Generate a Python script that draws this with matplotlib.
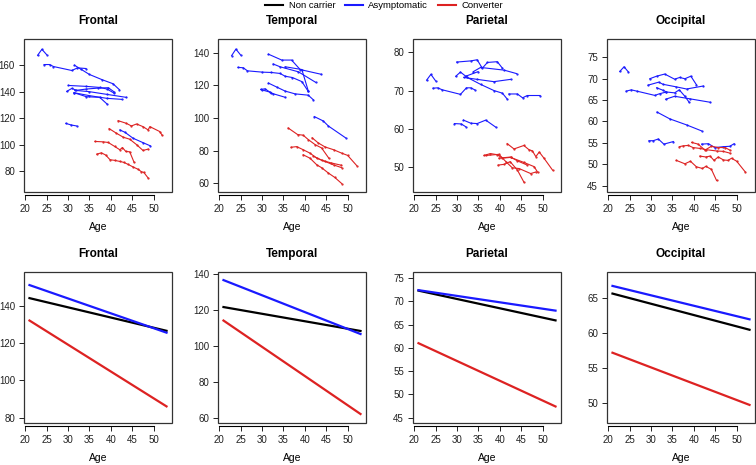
import matplotlib.pyplot as plt
from matplotlib.patches import Rectangle

plt.rcParams['font.family'] = ['Liberation Sans', 'DejaVu Sans']

groups = ['Non carrier', 'Asymptomatic', 'Converter']
colors = {'Non carrier': 'black', 'Asymptomatic': '#1a1aff', 'Converter': '#dd2222'}
regions = ['Frontal', 'Temporal', 'Parietal', 'Occipital']

# individual trajectories: (group, ages, values)
frontal_traj = [
    ('Asymptomatic', [22.9, 23.9, 25.0], [167.5, 172, 168]),
    ('Asymptomatic', [24.4, 25.7, 26.6, 30.9, 32.2, 34.2], [160.5, 160.5, 159, 156, 158, 157.5]),
    ('Asymptomatic', [31.5, 33, 35, 38, 40.5, 42], [160, 157, 153, 149, 146, 141.5]),
    ('Asymptomatic', [30.1, 34.3, 37.4, 39.1, 40.7], [144.7, 144, 143.2, 142, 139]),
    ('Asymptomatic', [29.7, 30.9, 31.9, 34.3, 37, 39.4, 40.7], [140.2, 142.5, 141, 142, 142.7, 143, 140]),
    ('Asymptomatic', [31.6, 35, 39, 43.6], [141, 140, 138, 135.7]),
    ('Asymptomatic', [31.4, 35, 39, 42.5], [139.2, 137, 135, 134.2]),
    ('Asymptomatic', [31.4, 34.3, 37.4, 39.1], [139.2, 136.2, 135.7, 130.7]),
    ('Asymptomatic', [29.5, 30.8, 32], [116, 114.8, 114.1]),
    ('Asymptomatic', [42.1, 43.3, 45.2, 47.5, 49.2], [111.1, 109.3, 104.8, 101.5, 99.1]),
    ('Converter', [41.7, 43.6, 44.8, 46, 47.5, 48.7, 49.1, 51.4, 52], [118.1, 116.1, 114.1, 115.6, 113.6, 111.1, 113.6, 109.9, 107]),
    ('Converter', [39.6, 41.3, 42.9, 44.4, 46, 47.5, 48.7], [112.1, 108.6, 105.6, 104.1, 100, 95.6, 96.6]),
    ('Converter', [36.3, 38.2, 39.4, 40.9, 42.1, 42.7, 43.5, 44.4, 45.4], [102.4, 102.1, 101.6, 98.6, 96.1, 97.8, 94.8, 94.6, 86.8]),
    ('Converter', [36.7, 37.8, 38.8, 39.8, 40.9, 42.1, 43, 44, 45.2, 46.4, 47.1, 47.7, 48.7],
     [92.8, 93.8, 92.1, 88.6, 88.1, 87.3, 86.6, 85.1, 83.1, 81.3, 79.6, 79, 74.8]),
]

temporal_traj = [
    ('Asymptomatic', [22.9, 23.9, 25.0], [138.1, 142.1, 138.5]),
    ('Asymptomatic', [24.4, 25.6, 26.6, 30.1, 32.2, 34.2, 35.4, 37.1, 39.3, 40.8],
     [130.9, 130.7, 128.8, 128, 127.8, 127.2, 125.5, 124.7, 122.2, 116.2]),
    ('Asymptomatic', [31.5, 34.6, 36.9, 38.9, 43.8], [139, 135.4, 135.4, 129.6, 126.7]),
    ('Asymptomatic', [32.6, 34.2, 38.5, 42.5], [133, 131.3, 128.2, 121.8]),
    ('Asymptomatic', [35.4, 39.3, 40.8], [131.3, 129.6, 116.5]),
    ('Asymptomatic', [31.5, 33.4, 35.4, 37.7, 40.8, 42], [121.3, 118.9, 116.4, 114.7, 113.9, 111]),
    ('Asymptomatic', [29.7, 30.7, 32.2, 35.4], [117.4, 117.8, 115.1, 112.6]),
    ('Asymptomatic', [29.9, 31.8, 32.5], [117.2, 115.8, 114.8]),
    ('Asymptomatic', [42.2, 44.3, 45.5, 49.5], [100.8, 98.1, 95, 87.8]),
    ('Converter', [36.1, 38.3, 39.6, 40.8, 42.4, 43.9, 45.6], [93.8, 89.8, 89.4, 86.7, 83.6, 81.6, 75.3]),
    ('Converter', [41.7, 43.1, 44.7, 46.7, 48.6, 50, 52.1], [87.8, 84.7, 82.2, 80.5, 78.4, 77, 70.8]),
    ('Converter', [36.8, 38.1, 39.6, 41.2, 42.8, 44.7, 46.7, 48.6], [82, 82.4, 80.5, 78.4, 75.3, 73.3, 71.2, 69.5]),
    ('Converter', [39.6, 41.2, 42.8, 43.9, 45.5, 47, 48.6], [77.4, 75.3, 71.2, 69.5, 66.2, 63.5, 59.8]),
    ('Converter', [42, 44, 46, 48.5], [76.5, 74, 72.5, 71]),
]

parietal_traj = [
    ('Asymptomatic', [22.9, 23.9, 25.0], [72.7, 74.2, 72.5]),
    ('Asymptomatic', [24.4, 25.5, 26.5, 30.8, 32.2, 33.2, 34.1], [70.6, 70.7, 70.2, 69, 70.7, 70.7, 70.2]),
    ('Asymptomatic', [29.9, 33.2, 34.7, 35.9, 37.1, 39.4, 40.6], [77.4, 77.7, 78, 75.8, 77.3, 77.5, 75.8]),
    ('Asymptomatic', [33.8, 35.5, 41, 43.9], [74.9, 76, 75.3, 74.4]),
    ('Asymptomatic', [29.7, 30.8, 32.4, 35.5, 38.6, 40.6, 41.7], [73.7, 74.8, 73.4, 71.6, 70, 69.3, 67.8]),
    ('Asymptomatic', [31.6, 34.7, 38.6, 42.5], [73.4, 72.9, 72.3, 72.9]),
    ('Asymptomatic', [32, 34.9], [73.7, 74.9]),
    ('Asymptomatic', [42.1, 44.1, 45.3, 46.4, 49.4], [69.1, 69.1, 68.1, 68.7, 68.7]),
    ('Asymptomatic', [29.4, 31, 32], [61.4, 61.3, 60.6]),
    ('Asymptomatic', [31.5, 33.2, 34.7, 36.7, 39], [62.3, 61.5, 61.4, 62.3, 60.5]),
    ('Converter', [41.7, 43.3, 45.6, 46.8, 47.6, 48.4, 49.2, 50.3, 52.3], [56.2, 54.8, 55.7, 54.6, 54.3, 52.8, 54, 52.4, 49.3]),
    ('Converter', [36.3, 37.8, 39.4, 40.6, 42.5, 45.6, 48, 48.8], [53.1, 53.6, 53.3, 52.4, 52.6, 51.3, 50.2, 48.8]),
    ('Converter', [36.7, 39.8, 41.4, 42.9, 44.5, 47.2, 48.4], [53.1, 53.4, 51.5, 49.9, 49.7, 48.4, 48.8]),
    ('Converter', [39.6, 41, 42.4, 44.1, 45.6], [50.6, 50.8, 51.5, 49.3, 46.2]),
    ('Converter', [39.8, 42.5, 44.1, 46.4], [52.4, 52.7, 51.7, 50.6]),
]

occipital_traj = [
    ('Asymptomatic', [22.7, 23.7, 24.7], [71.7, 72.8, 71.6]),
    ('Asymptomatic', [24.2, 25.4, 26.7, 30.9, 32, 33.6, 35.5, 36.6, 37.9, 38.9],
     [67.1, 67.4, 67.1, 66.1, 66.5, 66.9, 66.7, 67.4, 65.9, 64.5]),
    ('Asymptomatic', [29.7, 31.3, 33.2, 35.5, 36.7, 37.9, 39.3, 40.6], [70, 70.6, 71.1, 69.9, 70.3, 70, 70.6, 68.6]),
    ('Asymptomatic', [29.3, 31.8, 32.8, 35.9, 38.3, 42.2], [68.5, 69.2, 68.7, 68.1, 67.6, 68.3]),
    ('Asymptomatic', [31.3, 32.8, 33.6], [67.9, 67.3, 66.9]),
    ('Asymptomatic', [33.4, 35.5, 39.1, 43.8], [65.2, 65.9, 65.3, 64.5]),
    ('Asymptomatic', [31.4, 34.4, 38.3, 41.8], [62.2, 60.6, 59.2, 57.8]),
    ('Asymptomatic', [29.5, 30.5, 31.7, 33, 35.2], [55.5, 55.5, 55.9, 54.7, 55.3]),
    ('Asymptomatic', [41.8, 43.4, 44.9, 46.9, 48.4, 49.4], [54.7, 54.8, 53.9, 54.1, 54.2, 54.8]),
    ('Converter', [39.5, 41, 42.6, 44.1, 45.7, 47.3, 48.4], [55.1, 54.7, 53.3, 54.2, 53.9, 53.9, 53.3]),
    ('Converter', [36.6, 37.5, 38.7, 39.8, 41.4, 42.9, 45.3, 46.9, 48.4], [54.1, 54.3, 54.4, 53.9, 53.7, 53.4, 53.1, 53, 52.6]),
    ('Converter', [41.4, 42.8, 43.8, 44.7, 45.7, 46.9, 48, 48.8, 50, 52], [51.9, 51.7, 51.9, 50.9, 51.7, 51, 50.9, 51.4, 50.7, 48.2]),
    ('Converter', [35.9, 37.9, 39.2, 40.6, 42, 42.8, 44.1, 45.3], [50.9, 50.1, 50.7, 49.4, 49, 49.5, 48.8, 46.2]),
]

# fitted lines at ages 21 and 53
fit_ages = [21, 53]
frontal_fit = {'Non carrier': [144, 126.5], 'Asymptomatic': [151, 125.5], 'Converter': [132, 86]}
temporal_fit = {'Non carrier': [121.5, 108.2], 'Asymptomatic': [136.5, 106.5], 'Converter': [114, 62]}
parietal_fit = {'Non carrier': [72.3, 65.9], 'Asymptomatic': [72.4, 68], 'Converter': [61, 47.4]}
occipital_fit = {'Non carrier': [65.7, 60.5], 'Asymptomatic': [66.8, 62], 'Converter': [57.2, 49.7]}

top_ylims = [(64.2, 179.8), (54.6, 148.3), (43.6, 83.4), (43.5, 79.3)]
top_yticks = [[80, 100, 120, 140, 160], [60, 80, 100, 120, 140], [50, 60, 70, 80], [45, 50, 55, 60, 65, 70, 75]]
bot_ylims = [(77.1, 158), (57, 141), (43.85, 76.3), (47.1, 68.8)]
bot_yticks = [[80, 100, 120, 140], [60, 80, 100, 120, 140], [45, 50, 55, 60, 65, 70, 75], [50, 55, 60, 65]]

trajs = [frontal_traj, temporal_traj, parietal_traj, occipital_traj]
fits = [frontal_fit, temporal_fit, parietal_fit, occipital_fit]

fig = plt.figure(figsize=(7.56, 4.65), dpi=100)
lefts = [24, 218, 413, 607]
W, H = 756, 465


def style_axes(ax, ylim, yticks):
    ax.set_xlim(19.72, 54.28)
    ax.set_ylim(*ylim)
    ax.set_xticks([20, 25, 30, 35, 40, 45, 50])
    ax.set_yticks(yticks)
    for s in ['top', 'right', 'left']:
        ax.spines[s].set_visible(False)
    ax.spines['bottom'].set_position(('outward', 2))
    ax.spines['bottom'].set_bounds(20, 50)
    ax.spines['bottom'].set_linewidth(0.8)
    ax.add_patch(Rectangle((0, 0), 1, 1, transform=ax.transAxes, fill=False,
                           edgecolor='#333333', linewidth=0.9, clip_on=False))
    ax.tick_params(direction='out', length=3.5, width=0.7, labelsize=7, pad=3, colors='#222222')
    ax.set_xlabel('Age', fontsize=7.5, labelpad=6)


for i, reg in enumerate(regions):
    # top row: individual data
    ax = fig.add_axes([lefts[i] / W, 1 - 192 / H, 148 / W, 153 / H])
    for g, ages, vals in trajs[i]:
        ax.plot(ages, vals, color=colors[g], lw=0.8, marker='.', ms=1.2)
    style_axes(ax, top_ylims[i], top_yticks[i])
    ax.set_title(reg, fontsize=8.5, fontweight='bold', pad=11)

    # bottom row: fitted lines
    ax2 = fig.add_axes([lefts[i] / W, 1 - 423 / H, 148 / W, 151 / H])
    for g in groups:
        ax2.plot(fit_ages, fits[i][g], color=colors[g], lw=1.6)
    style_axes(ax2, bot_ylims[i], bot_yticks[i])
    ax2.set_title(reg, fontsize=8.5, fontweight='bold', pad=11)

handles = [plt.Line2D([], [], color=colors[g], lw=1.5) for g in groups]
fig.legend(handles, groups, loc='upper center', bbox_to_anchor=(0.508, 1.0), ncol=3,
           frameon=False, fontsize=6.8, handlelength=1.9, columnspacing=1.0, handletextpad=0.6,
           borderaxespad=0.0, borderpad=0.1)

fig.savefig('out.png', dpi=100)
